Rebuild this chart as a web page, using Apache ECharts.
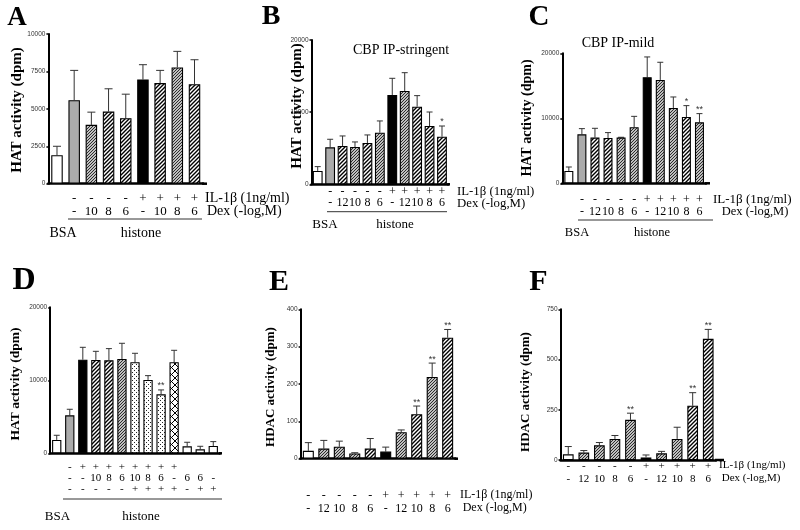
<!DOCTYPE html>
<html><head><meta charset="utf-8">
<script src="https://cdn.jsdelivr.net/npm/echarts@6/dist/echarts.min.js"></script>
<style>html,body{margin:0;padding:0;background:#fff}#c{width:800px;height:530px}</style>
</head><body><div id="c"></div>
<script>
// ---------------- DATA ----------------
// Panel A
const A_il   = ['', '-', '-', '-', '-', '+', '+', '+', '+'];
const A_dex  = ['', '-', '10', '8', '6', '-', '10', '8', '6'];
const A_mean = [1900, 5580, 3930, 4820, 4380, 6960, 6720, 7770, 6650];
const A_sem  = [600, 1990, 850, 1520, 1600, 990, 850, 1070, 1630];
const A_sig  = ['', '', '', '', '', '', '', '', ''];
const A_ticks = [0, 2500, 5000, 7500, 10000];
// Panel B
const B_il   = ['', '-', '-', '-', '-', '-', '+', '+', '+', '+', '+'];
const B_dex  = ['', '-', '12', '10', '8', '6', '-', '12', '10', '8', '6'];
const B_mean = [1850, 5130, 5310, 5170, 5730, 7160, 12380, 12930, 10760, 8080, 6600];
const B_sem  = [600, 1110, 1390, 700, 1110, 1620, 2310, 2540, 1530, 1940, 1480];
const B_sig  = ['', '', '', '', '', '', '', '', '', '', '*'];
const B_ticks = [0, 10000, 20000];
// Panel C
const C_il   = ['', '-', '-', '-', '-', '-', '+', '+', '+', '+', '+'];
const C_dex  = ['', '-', '12', '10', '8', '6', '-', '12', '10', '8', '6'];
const C_mean = [1900, 7540, 7030, 6970, 7030, 8620, 16310, 15900, 11590, 10200, 9380];
const C_sem  = [610, 870, 1430, 830, 50, 1680, 3130, 2720, 1690, 1750, 1340];
const C_sig  = ['', '', '', '', '', '', '', '', '', '*', '**'];
const C_ticks = [0, 10000, 20000];
// Panel D
const D_row1 = ['', '-', '+', '+', '+', '+', '+', '+', '+', '+', '', '', ''];
const D_row2 = ['', '-', '-', '10', '8', '6', '10', '8', '6', '-', '6', '6', '-'];
const D_row3 = ['', '-', '-', '-', '-', '-', '+', '+', '+', '+', '-', '+', '+'];
const D_mean = [1830, 5200, 12830, 12790, 12740, 12920, 12470, 10050, 8080, 12470, 960, 550, 1000];
const D_sem  = [640, 830, 1690, 1180, 1600, 2150, 1230, 590, 600, 1640, 550, 410, 600];
const D_sig  = ['', '', '', '', '', '', '', '', '**', '', '', '', ''];
const D_ticks = [0, 10000, 20000];
// Panel E
const E_il   = ['-', '-', '-', '-', '-', '+', '+', '+', '+', '+'];
const E_dex  = ['-', '12', '10', '8', '6', '-', '12', '10', '8', '6'];
const E_mean = [21, 27, 32, 14, 27, 19, 71, 119, 219, 324];
const E_sem  = [22, 22, 15, 2, 27, 12, 6, 22, 37, 22];
const E_sig  = ['', '', '', '', '', '', '', '**', '**', '**'];
const E_ticks = [0, 100, 200, 300, 400];
// Panel F
const F_il   = ['-', '-', '-', '-', '-', '+', '+', '+', '+', '+'];
const F_dex  = ['-', '12', '10', '8', '6', '-', '12', '10', '8', '6'];
const F_mean = [28, 37, 73, 105, 200, 13, 33, 105, 270, 603];
const F_sem  = [39, 10, 14, 17, 33, 12, 10, 58, 65, 47];
const F_sig  = ['', '', '', '', '**', '', '', '', '**', '**'];
const F_ticks = [0, 250, 500, 750];

// text
const IL_TITLE = 'IL-1\u03B2 (1ng/ml)';
const DEX_TITLE = 'Dex (-log,M)';
const HAT_TITLE = 'HAT activity (dpm)';
const HDAC_TITLE = 'HDAC activity (dpm)';

// ---------------- STYLES ----------------
const A_fill = ['white','grey','hatchD','hatchL','hatchL','black','hatchL','hatchD','hatchL'];
const B_fill = ['white','grey','hatchL','hatchD','hatchL','hatchD','black','hatchD','hatchL','hatchL','hatchL'];
const C_fill = ['white','grey','hatchL','hatchL','hatchD','hatchD','black','hatchD','hatchD','hatchL','hatchD'];
const D_fill = ['white','grey','black','hatchL','hatchL','hatchD','dots','dots','dots','cross','white','white','white'];
const E_fill = ['white','hatchD','hatchD','hatchD','hatchL','black','hatchD','hatchL','hatchD','hatchL'];
const F_fill = ['white','hatchD','hatchD','hatchD','hatchD','black','hatchD','hatchD','hatchL','hatchL'];

const SERIF = '"Liberation Serif","Times New Roman",serif';
const SANS = '"Liberation Sans",Arial,sans-serif';

function makeHatch(p, lw, col) {
  const c = document.createElement('canvas'); c.width = p; c.height = p;
  const g = c.getContext('2d'); g.fillStyle = '#fff'; g.fillRect(0, 0, p, p);
  g.strokeStyle = col; g.lineWidth = lw; g.beginPath();
  g.moveTo(-1, p + 1); g.lineTo(p + 1, -1);
  g.moveTo(-1, 1); g.lineTo(1, -1);
  g.moveTo(p - 1, p + 1); g.lineTo(p + 1, p - 1);
  g.stroke(); return c;
}
function makeDots() {
  const c = document.createElement('canvas'); c.width = 4; c.height = 4;
  const g = c.getContext('2d'); g.fillStyle = '#fff'; g.fillRect(0, 0, 4, 4);
  g.fillStyle = '#222'; g.fillRect(0, 0, 1, 1); g.fillRect(2, 2, 1, 1);
  return c;
}
function makeCross() {
  const p = 7;
  const c = document.createElement('canvas'); c.width = p; c.height = p;
  const g = c.getContext('2d'); g.fillStyle = '#fff'; g.fillRect(0, 0, p, p);
  g.strokeStyle = '#000'; g.lineWidth = 1; g.beginPath();
  g.moveTo(0, 0); g.lineTo(p, p); g.moveTo(0, p); g.lineTo(p, 0);
  g.stroke(); return c;
}
const FILLS = {
  white: '#ffffff',
  grey: '#ababab',
  black: '#000000',
  hatchD: { image: makeHatch(3, 1.1, '#222'), repeat: 'repeat' },
  hatchL: { image: makeHatch(4, 1.4, '#000'), repeat: 'repeat' },
  dots: { image: makeDots(), repeat: 'repeat' },
  cross: { image: makeCross(), repeat: 'repeat' }
};

// ---------------- LAYOUT ----------------
const panels = [
  { mean: A_mean, sem: A_sem, sig: A_sig, rows: [A_il, A_dex], fill: A_fill, ticks: A_ticks,
    grid: { left: 48.4, top: 34, width: 154.7, height: 149.7 }, barWidth: 11.5, cap: 4,
    fontSize: 13, lineHeight: 13, margin: 8.5, axisEnd: 207 },
  { mean: B_mean, sem: B_sem, sig: B_sig, rows: [B_il, B_dex], fill: B_fill, ticks: B_ticks,
    grid: { left: 311.5, top: 40, width: 136.7, height: 144.3 }, barWidth: 9.8, cap: 3,
    fontSize: 12, lineHeight: 11.6, margin: 1.6, axisEnd: 450 },
  { mean: C_mean, sem: C_sem, sig: C_sig, rows: [C_il, C_dex], fill: C_fill, ticks: C_ticks,
    grid: { left: 562.3, top: 53.3, width: 143.7, height: 130 }, barWidth: 9, cap: 3,
    fontSize: 12, lineHeight: 11.7, margin: 10.8, axisEnd: 710 },
  { mean: D_mean, sem: D_sem, sig: D_sig, rows: [D_row1, D_row2, D_row3], fill: D_fill, ticks: D_ticks,
    grid: { left: 50.2, top: 307.3, width: 169.6, height: 146 }, barWidth: 9.3, cap: 3,
    fontSize: 11, lineHeight: 11, margin: 8.2, axisEnd: 222 },
  { mean: E_mean, sem: E_sem, sig: E_sig, rows: [E_il, E_dex], fill: E_fill, ticks: E_ticks,
    grid: { left: 300.6, top: 309.3, width: 154.8, height: 149.4 }, barWidth: 11, cap: 3.5,
    fontSize: 12, lineHeight: 13, margin: 31, axisEnd: 458 },
  { mean: F_mean, sem: F_sem, sig: F_sig, rows: [F_il, F_dex], fill: F_fill, ticks: F_ticks,
    grid: { left: 560.5, top: 309.3, width: 155.5, height: 150.7 }, barWidth: 10.7, cap: 3.5,
    fontSize: 11, lineHeight: 13.3, margin: -1, axisEnd: 724 }
];

const grids = [], xAxes = [], yAxes = [], series = [], extGraphics = [];
panels.forEach((P, k) => {
  grids.push(P.grid);
  const cats = P.mean.map((_, i) => String(i));
  xAxes.push({
    type: 'category', gridIndex: k, data: cats,
    axisLine: { lineStyle: { color: '#000', width: 2.5 } },
    axisTick: { show: false },
    axisLabel: {
      interval: 0, color: '#000', fontFamily: SERIF, fontSize: P.fontSize,
      lineHeight: P.lineHeight, margin: P.margin,
      formatter: (v, idx) => P.rows.map(r => r[idx]).join('\n')
    }
  });
  yAxes.push({
    type: 'value', gridIndex: k, min: P.ticks[0], max: P.ticks[P.ticks.length - 1],
    interval: P.ticks[1] - P.ticks[0],
    splitLine: { show: false },
    axisLine: { show: true, lineStyle: { color: '#000', width: 2 } },
    axisTick: { show: true, length: 2, lineStyle: { color: '#000', width: 1.5 } },
    axisLabel: { fontFamily: SANS, fontSize: 6.5, color: '#333', margin: 3, formatter: v => String(v) }
  });
  series.push({
    type: 'bar', xAxisIndex: k, yAxisIndex: k, barWidth: P.barWidth,
    data: P.mean.map((v, i) => ({
      value: v,
      itemStyle: { color: FILLS[P.fill[i]], borderColor: '#000', borderWidth: 1.1 }
    })),
    silent: true, animation: false
  });
  series.push({
    type: 'custom', xAxisIndex: k, yAxisIndex: k, animation: false, silent: true,
    data: P.mean.map((v, i) => [i, v, P.sem[i]]),
    encode: { x: 0, y: 1 },
    renderItem: (params, api) => {
      const i = api.value(0), m = api.value(1), s = api.value(2);
      const b = api.coord([i, m]), t = api.coord([i, m + s]);
      const ch = [
        { type: 'line', shape: { x1: b[0], y1: b[1], x2: t[0], y2: t[1] }, style: { stroke: '#333', lineWidth: 1 } },
        { type: 'line', shape: { x1: t[0] - P.cap, y1: t[1], x2: t[0] + P.cap, y2: t[1] }, style: { stroke: '#333', lineWidth: 1 } }
      ];
      const sg = P.sig[params.dataIndex];
      if (sg) ch.push({ type: 'text', x: t[0], y: t[1] - 4,
        style: { text: sg, font: '9px ' + SANS, fill: '#333', textAlign: 'center', textVerticalAlign: 'middle', align: 'center', verticalAlign: 'middle' } });
      return { type: 'group', children: ch };
    }
  });
  // short extension of the x axis line past the last category (as drawn in the original)
  const y0 = P.grid.top + P.grid.height;
  extGraphics.push({ type: 'line', silent: true,
    shape: { x1: P.grid.left + P.grid.width - 1, y1: y0, x2: P.axisEnd, y2: y0 },
    style: { stroke: '#000', lineWidth: 2.5 } });
});

// graphic text helpers
function txt(s, x, y, font, align, rot) {
  return { type: 'text', x: x, y: y, rotation: rot || 0, silent: true,
    style: { text: s, font: font, fill: '#000', textAlign: align || 'center', align: align || 'center',
      textVerticalAlign: 'middle', verticalAlign: 'middle' } };
}
function hline(x1, x2, y) {
  return { type: 'line', silent: true, shape: { x1: x1, y1: y, x2: x2, y2: y }, style: { stroke: '#333', lineWidth: 1 } };
}
const R90 = Math.PI / 2;
const graphic = extGraphics.concat([
  txt('A', 17, 18.5, 'bold 27px ' + SERIF), txt('B', 271, 16.5, 'bold 28px ' + SERIF), txt('C', 539, 18, 'bold 29px ' + SERIF),
  txt('D', 24, 281, 'bold 32px ' + SERIF), txt('E', 279, 282, 'bold 30px ' + SERIF), txt('F', 538.5, 282, 'bold 30px ' + SERIF),
  txt(HAT_TITLE, 17.5, 110, 'bold 15px ' + SERIF, 'center', R90),
  txt(HAT_TITLE, 297, 106, 'bold 15px ' + SERIF, 'center', R90),
  txt(HAT_TITLE, 527, 118, 'bold 14px ' + SERIF, 'center', R90),
  txt(HAT_TITLE, 16, 384, 'bold 13.5px ' + SERIF, 'center', R90),
  txt(HDAC_TITLE, 271, 387, 'bold 13px ' + SERIF, 'center', R90),
  txt(HDAC_TITLE, 526, 392, 'bold 13px ' + SERIF, 'center', R90),
  txt('CBP IP-stringent', 401, 50, '14px ' + SERIF), txt('CBP IP-mild', 618, 43, '14px ' + SERIF),
  // A
  txt(IL_TITLE, 205, 198, '14px ' + SERIF, 'left'), txt(DEX_TITLE, 207, 211, '14px ' + SERIF, 'left'),
  hline(68, 202, 219), txt('BSA', 63, 233, '14px ' + SERIF), txt('histone', 141, 233, '14px ' + SERIF),
  // B
  txt(IL_TITLE, 457, 191.7, '12.8px ' + SERIF, 'left'), txt(DEX_TITLE, 457, 203.3, '12.8px ' + SERIF, 'left'),
  hline(327, 447, 211.7), txt('BSA', 325, 225, '13px ' + SERIF), txt('histone', 395, 225, '13px ' + SERIF),
  // C
  txt(IL_TITLE, 713, 200, '13px ' + SERIF, 'left'), txt(DEX_TITLE, 721.7, 211.7, '12.5px ' + SERIF, 'left'),
  hline(578, 713, 220), txt('BSA', 577, 233, '12.5px ' + SERIF), txt('histone', 652, 233, '12.5px ' + SERIF),
  // D
  hline(63, 222, 499), txt('BSA', 57.5, 516.7, '13px ' + SERIF), txt('histone', 141, 516.7, '13px ' + SERIF),
  // E
  txt(IL_TITLE, 460, 495.3, '12px ' + SERIF, 'left'), txt(DEX_TITLE, 462.7, 508.3, '12px ' + SERIF, 'left'),
  // F
  txt(IL_TITLE, 719, 465, '11px ' + SERIF, 'left'), txt(DEX_TITLE, 721.7, 478.3, '11px ' + SERIF, 'left')
]);

const chart = echarts.init(document.getElementById('c'), null, { renderer: 'canvas' });
chart.setOption({
  backgroundColor: '#fff', animation: false,
  grid: grids, xAxis: xAxes, yAxis: yAxes, series: series, graphic: graphic
});
</script></body></html>
